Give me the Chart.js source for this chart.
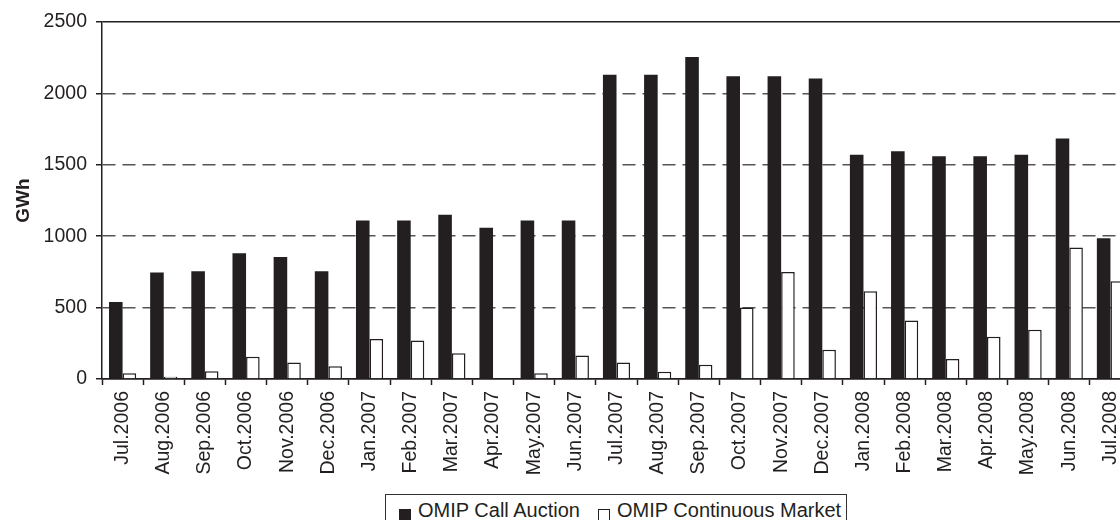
<!DOCTYPE html>
<html lang="en">
<head>
  <meta charset="UTF-8" />
  <title>OMIP volumes</title>
  <script src="https://cdn.jsdelivr.net/npm/chart.js"></script>
  <style>
    body {
      margin: 0;
      background: #fff;
      overflow: hidden;
      font-family: "Liberation Sans", Arial, sans-serif;
      color: #231f20;
    }
    .wrap {
      position: relative;
      width: 1140px;
      height: 520px;
    }
    .legend {
      position: absolute;
      left: 385px;
      top: 494px;
      width: 462px;
      height: 40px;
      box-sizing: border-box;
      border: 1px solid #333;
      background: #fff;
    }
    .legend span {
      position: absolute;
      font-size: 20px;
      line-height: 20px;
      white-space: nowrap;
    }
    .legend i {
      position: absolute;
      width: 12px;
      height: 12px;
      box-sizing: border-box;
      border: 1px solid #231f20;
    }
  </style>
</head>
<body>
  <div class="wrap">
    <canvas id="chart"></canvas>
    <div class="legend">
      <i style="left:13px; top:14px; background:#231f20;"></i>
      <span style="left:32px; top:5px;">OMIP Call Auction</span>
      <i style="left:212px; top:14px; background:#fff;"></i>
      <span style="left:231px; top:5px;">OMIP Continuous Market</span>
    </div>
  </div>

  <script>
    const months = ['Jul.2006', 'Aug.2006', 'Sep.2006', 'Oct.2006', 'Nov.2006', 'Dec.2006',
      'Jan.2007', 'Feb.2007', 'Mar.2007', 'Apr.2007', 'May.2007', 'Jun.2007',
      'Jul.2007', 'Aug.2007', 'Sep.2007', 'Oct.2007', 'Nov.2007', 'Dec.2007',
      'Jan.2008', 'Feb.2008', 'Mar.2008', 'Apr.2008', 'May.2008', 'Jun.2008', 'Jul.2008'];
    const callAuction = [540, 745, 755, 880, 855, 755, 1110, 1110, 1150, 1060, 1110, 1110,
      2130, 2130, 2255, 2120, 2120, 2105, 1570, 1595, 1560, 1560, 1570, 1685, 985];
    const continuous = [40, 15, 55, 155, 115, 90, 280, 270, 180, 0, 40, 165,
      115, 50, 100, 500, 750, 205, 615, 410, 140, 295, 345, 920, 685];

    const ink = '#231f20';
    const font = { family: '"Liberation Sans", Arial, sans-serif', size: 19.5 };

    new Chart(document.getElementById('chart'), {
      type: 'bar',
      data: {
        labels: months,
        datasets: [{
          label: 'OMIP Call Auction',
          data: callAuction,
          backgroundColor: ink,
          borderWidth: 0
        }, {
          label: 'OMIP Continuous Market',
          data: continuous,
          backgroundColor: '#fff',
          borderColor: ink,
          borderWidth: 1.5
        }]
      },
      options: {
        responsive: true,
        maintainAspectRatio: false,
        animation: false,
        datasets: {
          bar: { categoryPercentage: 0.66, barPercentage: 1.0 }
        },
        layout: { padding: { top: 22, right: 8, bottom: 0, left: 0 } },
        plugins: {
          legend: { display: false },
          tooltip: { enabled: false }
        },
        scales: {
          x: {
            afterFit: s => { s.height = 141; },
            grid: {
              drawOnChartArea: false,
              drawTicks: true,
              tickLength: 6,
              tickColor: ink,
              tickWidth: 1.5
            },
            border: { color: ink, width: 1.5 },
            ticks: {
              color: ink,
              font,
              minRotation: 90,
              maxRotation: 90,
              autoSkip: false,
              padding: 6
            }
          },
          y: {
            min: 0,
            max: 2500,
            afterFit: s => { s.width = 102; },
            ticks: {
              stepSize: 500,
              color: ink,
              font,
              padding: 9,
              callback: v => String(v)
            },
            title: {
              display: true,
              text: 'GWh',
              color: ink,
              font: { family: font.family, size: 19, weight: 'bold' },
              padding: { top: 12, bottom: 0 }
            },
            grid: {
              color: c => (c.tick.value === 500 || c.tick.value === 1000 || c.tick.value === 1500 || c.tick.value === 2000) ? '#555' : ink,
              lineWidth: 1.5,
              tickLength: 6,
              tickColor: ink,
              tickWidth: 1.5,
              tickBorderDash: []
            },
            border: {
              color: ink,
              width: 1.5,
              dash: c => (c.tick && c.tick.value > 0 && c.tick.value < 2500) ? [13, 7] : []
            }
          }
        }
      }
    });
  </script>
</body>
</html>
